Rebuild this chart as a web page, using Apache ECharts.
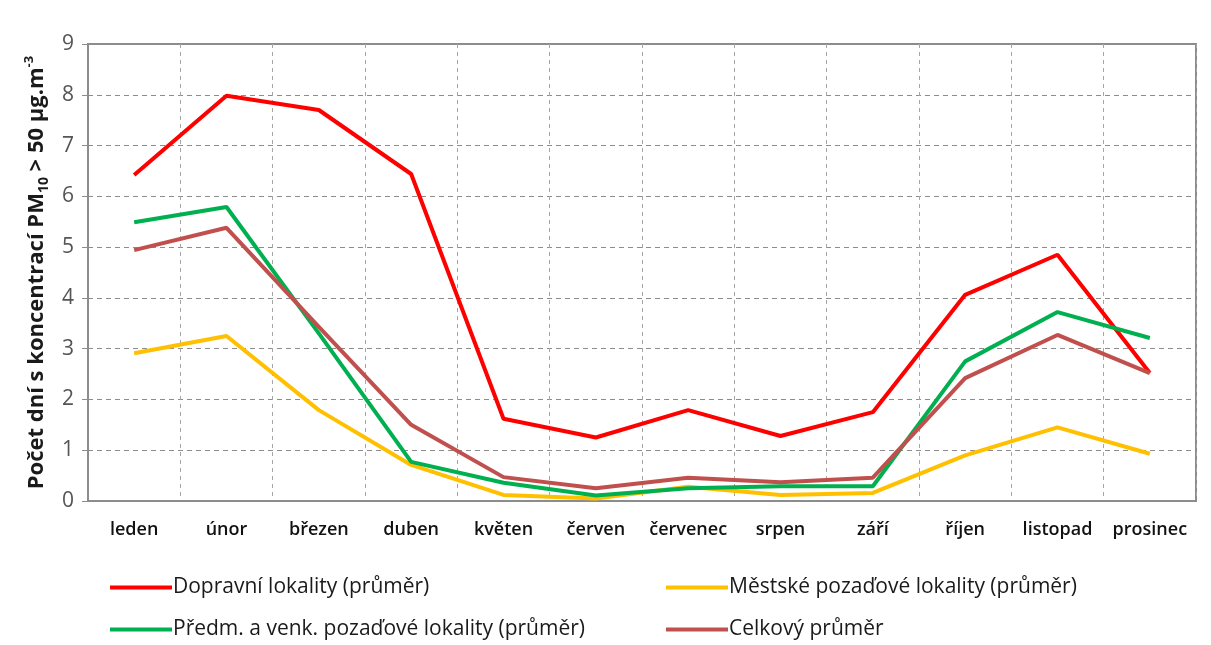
<!DOCTYPE html>
<html>
<head>
<meta charset="utf-8">
<script src="https://cdn.jsdelivr.net/npm/echarts@6/dist/echarts.min.js"></script>
<style>
  html, body { margin: 0; padding: 0; background: #fff; }
  #chart { width: 1211px; height: 645px; }
</style>
</head>
<body>
<div id="chart"></div>
<script>
/* PM10 exceedance days per month, line chart. */
const months = ["leden", "únor", "březen", "duben", "květen", "červen", "červenec", "srpen", "září", "říjen", "listopad", "prosinec"];
const dopravni = [6.42, 7.98, 7.70, 6.44, 1.62, 1.25, 1.79, 1.28, 1.75, 4.06, 4.85, 2.52];
const mestske = [2.91, 3.25, 1.79, 0.71, 0.12, 0.05, 0.28, 0.12, 0.16, 0.90, 1.45, 0.93];
const predm = [5.49, 5.79, 3.30, 0.77, 0.36, 0.11, 0.25, 0.29, 0.29, 2.75, 3.72, 3.21];
const celkovy = [4.94, 5.38, 3.43, 1.50, 0.47, 0.25, 0.46, 0.37, 0.46, 2.42, 3.27, 2.52];
const yTicks = [0, 9, 1]; // min, max, interval

(function () {
  "use strict";
  const el = document.getElementById("chart");
  const chart = echarts.init(el, null, { renderer: "canvas" });
  const font = "'Open Sans', 'Liberation Sans', sans-serif";
  const grid = "#8c8c8c";

  function line(name, data, color) {
    return {
      name: name, type: "line", data: data,
      symbol: "none", smooth: false,
      lineStyle: { color: color, width: 4 },
      itemStyle: { color: color },
    };
  }

  const legendBase = {
    orient: "vertical",
    top: 572,
    itemWidth: 62, itemHeight: 4, itemGap: 21,
    icon: "rect",
    textStyle: { fontFamily: font, fontSize: 21, color: "#1a1a1a", padding: [0, 0, 0, -4] },
  };

  chart.setOption({
    animation: false,
    backgroundColor: "#ffffff",
    grid: { left: 88, right: 15, top: 44, bottom: 144, show: true, borderColor: grid, borderWidth: 2 },
    legend: [
      Object.assign({}, legendBase, { left: 105, data: ["Dopravní lokality (průměr)", "Předm. a venk. pozaďové lokality (průměr)"] }),
      Object.assign({}, legendBase, { left: 661, data: ["Městské pozaďové lokality (průměr)", "Celkový průměr"] }),
    ],
    xAxis: {
      type: "category",
      data: months,
      boundaryGap: true,
      axisLine: { lineStyle: { color: grid, width: 2 } },
      axisTick: { show: false },
      splitLine: { show: true, interval: 0, lineStyle: { color: "#a6a6a6", type: [4, 4], width: 1 } },
      axisLabel: { interval: 0, color: "#111", fontFamily: font, fontSize: 18, fontWeight: 600, margin: 20 },
    },
    yAxis: {
      type: "value",
      min: yTicks[0], max: yTicks[1], interval: yTicks[2],
      axisLine: { show: true, lineStyle: { color: grid, width: 2 } },
      axisTick: { show: true, inside: false, length: 6, lineStyle: { color: grid, width: 1 } },
      splitLine: { lineStyle: { color: "#8c8c8c", type: [5, 4], width: 1 } },
      axisLabel: { color: "#555", fontFamily: font, fontSize: 21, margin: 14 },
      name: "{a|Počet dní s koncentrací PM}{sub|10}{a| > 50 µg.m}{sup|-3}",
      nameLocation: "middle",
      nameRotate: 90,
      nameGap: 36,
      nameTextStyle: {
        rich: {
          a: { fontFamily: font, fontSize: 22, fontWeight: "bold", color: "#1a1a1a", lineHeight: 28, verticalAlign: "middle" },
          sub: { fontFamily: font, fontSize: 14, fontWeight: "bold", color: "#1a1a1a", lineHeight: 28, verticalAlign: "bottom", padding: [8, 0, 0, 0] },
          sup: { fontFamily: font, fontSize: 13, fontWeight: "bold", color: "#1a1a1a", lineHeight: 28, verticalAlign: "top", padding: [0, 0, 10, 0] },
        },
      },
    },
    series: [
      line("Dopravní lokality (průměr)", dopravni, "#ff0000"),
      line("Městské pozaďové lokality (průměr)", mestske, "#ffc000"),
      line("Předm. a venk. pozaďové lokality (průměr)", predm, "#00b050"),
      line("Celkový průměr", celkovy, "#c0504d"),
    ],
  });
  new ResizeObserver(function () { chart.resize(); }).observe(el);
})();
</script>
</body>
</html>
